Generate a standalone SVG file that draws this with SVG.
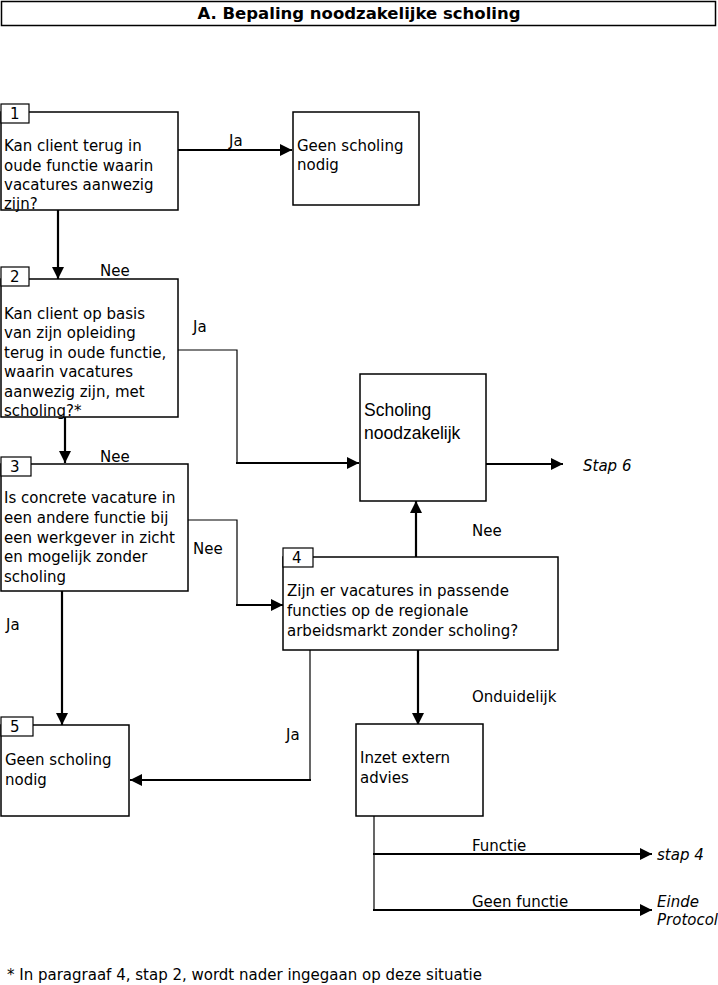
<svg xmlns="http://www.w3.org/2000/svg" width="718" height="985" viewBox="0 0 718 985">
<style>
.box{fill:#fff;stroke:#000;stroke-width:1.5}
.lbl{fill:#fff;stroke:#000;stroke-width:1.2}
.t{font-family:"DejaVu Sans",Verdana,sans-serif;font-size:15px;fill:#000}
.a{font-family:"Liberation Sans",Arial,sans-serif;font-size:17.5px;fill:#000}
.i{font-style:italic}
.thick{fill:none;stroke:#000;stroke-width:2.2}
.thin{fill:none;stroke:#000;stroke-width:1.2}
</style>
<defs>
<marker id="ah" viewBox="0 0 10 10" refX="10" refY="5" markerWidth="12" markerHeight="12" markerUnits="userSpaceOnUse" orient="auto">
<path d="M0,0 L10,5 L0,10 z" fill="#000"/>
</marker>
</defs>
<rect width="718" height="985" fill="#fff"/>
<g id="title">
<rect x="1.5" y="1.5" width="714" height="24" class="box"/>
<text x="359" y="19" text-anchor="middle" class="t" style="font-weight:bold;font-size:16.5px">A. Bepaling noodzakelijke scholing</text>
</g>
<g id="connectors">
<line x1="178" y1="150" x2="292" y2="150" class="thick" marker-end="url(#ah)"/>
<line x1="58" y1="210" x2="58" y2="279" class="thick" marker-end="url(#ah)"/>
<polyline points="178,350 237,350 237,463" class="thin"/>
<line x1="236" y1="463" x2="359" y2="463" class="thick" marker-end="url(#ah)"/>
<line x1="65" y1="417" x2="65" y2="463" class="thick" marker-end="url(#ah)"/>
<polyline points="188,520 237,520 237,605" class="thin"/>
<line x1="236" y1="605" x2="283" y2="605" class="thick" marker-end="url(#ah)"/>
<line x1="486" y1="464" x2="563" y2="464" class="thick" marker-end="url(#ah)"/>
<line x1="416" y1="557" x2="416" y2="501" class="thick" marker-end="url(#ah)"/>
<polyline points="310,650 310,780" class="thin"/>
<line x1="311" y1="780" x2="130" y2="780" class="thick" marker-end="url(#ah)"/>
<line x1="418" y1="650" x2="418" y2="725" class="thick" marker-end="url(#ah)"/>
<line x1="62" y1="591" x2="62" y2="725" class="thick" marker-end="url(#ah)"/>
<polyline points="374,816 374,910" class="thin"/>
<line x1="373" y1="854" x2="652" y2="854" class="thick" marker-end="url(#ah)"/>
<line x1="373" y1="910" x2="652" y2="910" class="thick" marker-end="url(#ah)"/>
<text x="229" y="146" class="t">Ja</text>
<text x="100" y="276" class="t">Nee</text>
<text x="193" y="332" class="t">Ja</text>
<text x="100" y="462" class="t">Nee</text>
<text x="193" y="554" class="t">Nee</text>
<text x="472" y="536" class="t">Nee</text>
<text x="6" y="630" class="t">Ja</text>
<text x="286" y="740" class="t">Ja</text>
<text x="472" y="702" class="t">Onduidelijk</text>
<text x="472" y="851" class="t">Functie</text>
<text x="472" y="907" class="t">Geen functie</text>
<text x="583" y="471" class="t i">Stap 6</text>
<text x="657" y="860" class="t i">stap 4</text>
<text x="657" y="907" class="t i">Einde</text>
<text x="657" y="925" class="t i">Protocol</text>
</g>
<g id="node1">
<rect x="1" y="112" width="177" height="98" class="box"/>
<rect x="1" y="104" width="28" height="19" class="lbl"/>
<text x="10" y="119" class="t">1</text>
<text class="t"><tspan x="4" y="151">Kan client terug in</tspan><tspan x="4" y="171">oude functie waarin</tspan><tspan x="4" y="190">vacatures aanwezig</tspan><tspan x="4" y="209">zijn?</tspan></text>
</g>
<g id="node1ja">
<rect x="293" y="112" width="126" height="93" class="box"/>
<text class="t"><tspan x="297" y="151">Geen scholing</tspan><tspan x="297" y="170">nodig</tspan></text>
</g>
<g id="node2">
<rect x="1" y="279" width="177" height="138" class="box"/>
<rect x="1" y="267" width="28" height="19" class="lbl"/>
<text x="10" y="282" class="t">2</text>
<text class="t"><tspan x="4" y="319">Kan client op basis</tspan><tspan x="4" y="338">van zijn opleiding</tspan><tspan x="4" y="358">terug in oude functie,</tspan><tspan x="4" y="377">waarin vacatures</tspan><tspan x="4" y="397">aanwezig zijn, met</tspan><tspan x="4" y="416">scholing?*</tspan></text>
</g>
<g id="node3">
<rect x="1" y="464" width="187" height="127" class="box"/>
<rect x="1" y="457" width="30" height="19" class="lbl"/>
<text x="10" y="472" class="t">3</text>
<text class="t"><tspan x="4" y="503">Is concrete vacature in</tspan><tspan x="4" y="523">een andere functie bij</tspan><tspan x="4" y="543">een werkgever in zicht</tspan><tspan x="4" y="562">en mogelijk zonder</tspan><tspan x="4" y="582">scholing</tspan></text>
</g>
<g id="scholing">
<rect x="360" y="374" width="126" height="127" class="box"/>
<text class="a"><tspan x="364" y="416">Scholing</tspan><tspan x="364" y="439">noodzakelijk</tspan></text>
</g>
<g id="node4">
<rect x="283" y="557" width="275" height="93" class="box"/>
<rect x="283" y="548" width="30" height="19" class="lbl"/>
<text x="292" y="563" class="t">4</text>
<text class="t"><tspan x="287" y="596">Zijn er vacatures in passende</tspan><tspan x="287" y="616">functies op de regionale</tspan><tspan x="287" y="636">arbeidsmarkt zonder scholing?</tspan></text>
</g>
<g id="node5">
<rect x="1" y="725" width="128" height="91" class="box"/>
<rect x="1" y="717" width="32" height="19" class="lbl"/>
<text x="10" y="732" class="t">5</text>
<text class="t"><tspan x="5" y="765">Geen scholing</tspan><tspan x="5" y="785">nodig</tspan></text>
</g>
<g id="inzet">
<rect x="356" y="724" width="127" height="92" class="box"/>
<text class="t"><tspan x="360" y="763">Inzet extern</tspan><tspan x="360" y="783">advies</tspan></text>
</g>
<g id="footnote">
<text x="7" y="980" class="t">* In paragraaf 4, stap 2, wordt nader ingegaan op deze situatie</text>
</g>
</svg>
